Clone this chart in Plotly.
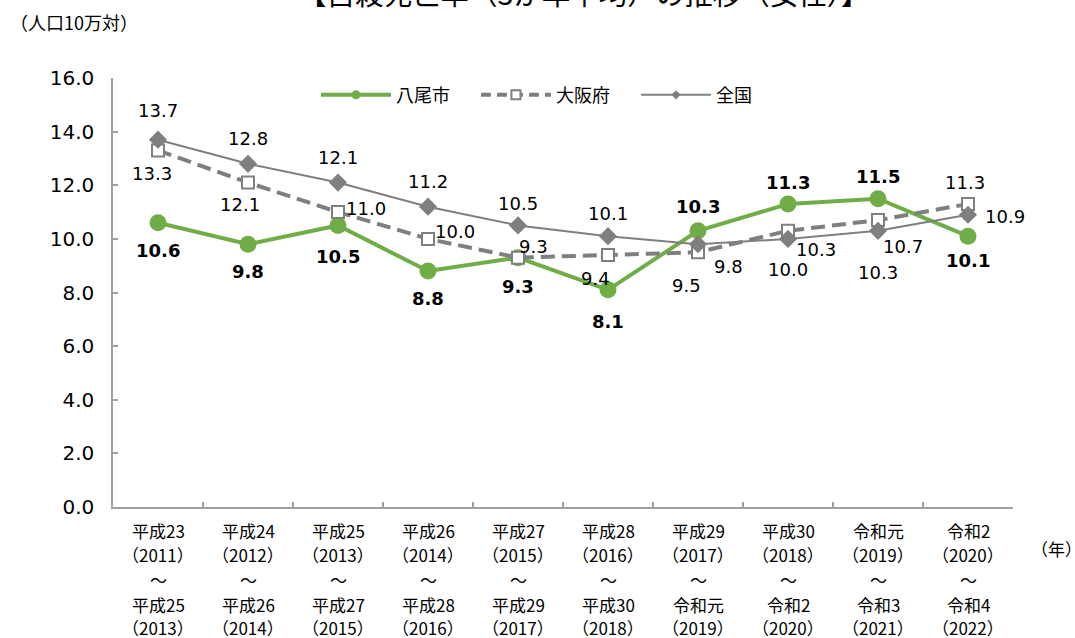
import plotly.graph_objects as go

categories = ["H23-25", "H24-26", "H25-27", "H26-28", "H27-29",
              "H28-30", "H29-R1", "H30-R2", "R1-R3", "R2-R4"]
start_era = ["平成23", "平成24", "平成25", "平成26", "平成27",
             "平成28", "平成29", "平成30", "令和元", "令和2"]
start_year = ["2011", "2012", "2013", "2014", "2015",
              "2016", "2017", "2018", "2019", "2020"]
end_era = ["平成25", "平成26", "平成27", "平成28", "平成29",
           "平成30", "令和元", "令和2", "令和3", "令和4"]
end_year = ["2013", "2014", "2015", "2016", "2017",
            "2018", "2019", "2020", "2021", "2022"]

yao = [10.6, 9.8, 10.5, 8.8, 9.3, 8.1, 10.3, 11.3, 11.5, 10.1]
osaka = [13.3, 12.1, 11.0, 10.0, 9.3, 9.4, 9.5, 10.3, 10.7, 11.3]
zenkoku = [13.7, 12.8, 12.1, 11.2, 10.5, 10.1, 9.8, 10.0, 10.3, 10.9]

y_ticks = [0, 2, 4, 6, 8, 10, 12, 14, 16]

# label offsets (px): (xshift, yshift up-positive)
yao_off = [(0, -28), (0, -27), (0, -31), (0, -27), (0, -29), (0, -32),
           (0, 24), (0, 22), (0, 22), (0, -24)]
osaka_off = [(-6, -23), (-8, -22), (28, 4), (27, 7), (15, 11), (-13, -24),
             (-12, -33), (28, -19), (25, -26), (-3, 22)]
zenkoku_off = [(0, 29), (0, 25), (0, 25), (0, 25), (0, 22), (0, 23),
               (30, -22), (0, -31), (0, -42), (37, -2)]

GREEN = "#70AD47"
GRAY = "#7F7F7F"
NUMFONT = "DejaVu Sans, Noto Sans CJK JP, sans-serif"
JPFONT = "Noto Sans CJK JP, sans-serif"

fig = go.Figure()

fig.add_trace(go.Scatter(
    x=categories, y=yao, mode="lines+markers", name="八尾市", showlegend=False,
    line=dict(color=GREEN, width=4),
    marker=dict(symbol="circle", size=17, color=GREEN),
))
fig.add_trace(go.Scatter(
    x=categories, y=osaka, mode="lines+markers", name="大阪府", showlegend=False,
    line=dict(color=GRAY, width=4, dash="14px,7px"),
    marker=dict(symbol="square", size=12, color="white",
                line=dict(color=GRAY, width=2)),
))
fig.add_trace(go.Scatter(
    x=categories, y=zenkoku, mode="lines+markers", name="全国", showlegend=False,
    line=dict(color=GRAY, width=2),
    marker=dict(symbol="diamond", size=14, color=GRAY),
))

# legend-only entries
fig.add_trace(go.Scatter(
    x=[None], y=[None], mode="lines+markers", name="八尾市",
    line=dict(color=GREEN, width=4), marker=dict(symbol="circle", size=9, color=GREEN),
))
fig.add_trace(go.Scatter(
    x=[None], y=[None], mode="lines+markers", name="大阪府",
    line=dict(color=GRAY, width=4, dash="10px,6px"),
    marker=dict(symbol="square", size=9, color="white", line=dict(color=GRAY, width=2)),
))
fig.add_trace(go.Scatter(
    x=[None], y=[None], mode="lines+markers", name="全国",
    line=dict(color=GRAY, width=2), marker=dict(symbol="diamond", size=7, color=GRAY),
))

annotations = []


def add_labels(vals, offs, bold):
    for c, v, (dx, dy) in zip(categories, vals, offs):
        txt = f"{v:.1f}"
        if bold:
            txt = f"<b>{txt}</b>"
        annotations.append(dict(
            x=c, y=v, xref="x", yref="y", text=txt, showarrow=False,
            xshift=dx, yshift=dy, xanchor="center", yanchor="middle",
            font=dict(family=NUMFONT, size=18, color="#000000"),
        ))


add_labels(yao, yao_off, True)
add_labels(osaka, osaka_off, False)
add_labels(zenkoku, zenkoku_off, False)

# category tick labels (5 lines each)
line_offsets = [23, 47, 72, 97, 120]
for i, c in enumerate(categories):
    lines = [start_era[i], f"（{start_year[i]}）", "～", end_era[i], f"（{end_year[i]}）"]
    for ln, off in zip(lines, line_offsets):
        annotations.append(dict(
            x=c, y=0, xref="x", yref="paper", text=ln, showarrow=False,
            yshift=-off, xanchor="center", yanchor="middle",
            font=dict(family=JPFONT, size=17, color="#000000"),
        ))

annotations.append(dict(
    x=1, y=0, xref="paper", yref="paper", text="（年）", showarrow=False,
    xshift=43, yshift=-41, xanchor="center", yanchor="middle",
    font=dict(family=JPFONT, size=17, color="#000000"),
))
annotations.append(dict(
    x=0, y=1, xref="paper", yref="paper", text="（人口10万対）", showarrow=False,
    xshift=-105, yshift=56, xanchor="left", yanchor="middle",
    font=dict(family=JPFONT, size=18, color="#000000"),
))
annotations.append(dict(
    x=0.5, y=1, xref="paper", yref="paper",
    text="【自殺死亡率（3か年平均）の推移（女性）】", showarrow=False,
    xshift=21, yshift=86, xanchor="center", yanchor="middle",
    font=dict(family=JPFONT, size=28.5, color="#000000"),
))

fig.update_layout(
    width=1075, height=638,
    margin=dict(l=113, r=62, t=78, b=131),
    paper_bgcolor="white", plot_bgcolor="white",
    annotations=annotations,
    showlegend=True,
    legend=dict(
        orientation="h", x=0.2255, y=0.96, xanchor="left", yanchor="middle",
        itemwidth=70, entrywidth=75, entrywidthmode="pixels",
        font=dict(family=JPFONT, size=18, color="#000000"),
        bgcolor="rgba(0,0,0,0)",
    ),
    xaxis=dict(
        type="category", range=[-0.5, 9.5], showgrid=False,
        showline=True, linecolor="#A0A0A0", linewidth=1.5,
        ticks="inside", ticklen=5, tickcolor="#A0A0A0", tickwidth=1.5,
        tickson="boundaries", showticklabels=False, zeroline=False,
        fixedrange=True,
    ),
    yaxis=dict(
        range=[0, 16], tickvals=y_ticks, tickformat=".1f", showgrid=False,
        showline=True, linecolor="#A0A0A0", linewidth=1.5,
        ticks="inside", ticklen=5, tickcolor="#A0A0A0", tickwidth=1.5,
        ticklabelstandoff=13, zeroline=False,
        tickfont=dict(family=NUMFONT, size=20, color="#000000"),
    ),
)

fig.write_html(
    "out.html",
    config={"displayModeBar": False},
    post_script="document.body.style.margin='0';document.body.style.overflow='hidden';",
)
